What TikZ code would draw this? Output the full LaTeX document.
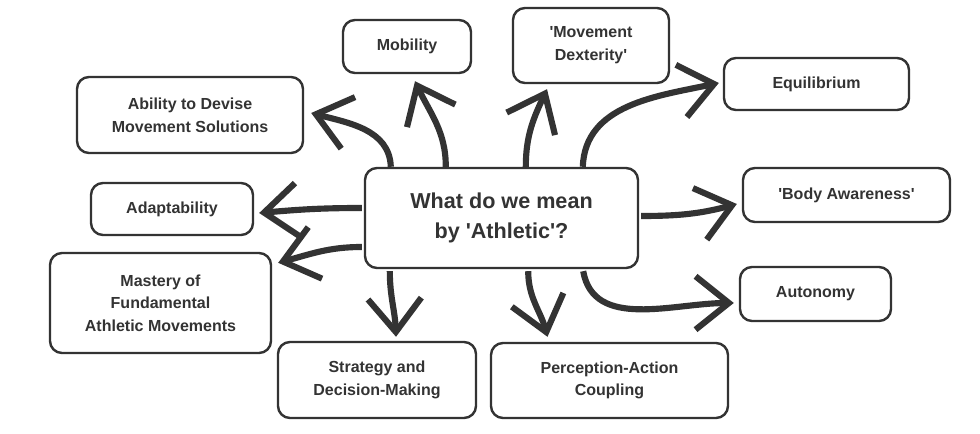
\documentclass[tikz,border=0pt]{standalone}
\usepackage{fontspec}
\setmainfont{Liberation Sans}
\usetikzlibrary{arrows.meta,calc}
\definecolor{ink}{HTML}{333333}
\newcommand{\q}{\textquotesingle}
\tikzset{
  box/.style={draw=ink,line width=1.8pt,rounded corners=9pt,align=center,
    text=ink,font=\bfseries\fontsize{12}{17}\selectfont,inner sep=0pt},
  sz/.style 2 args={minimum width=0.75*#1 pt,minimum height=0.75*#2 pt},
  conn/.style={draw=ink,line width=4.6pt,
    -{Straight Barb[length=25pt,width=40pt,line cap=butt]}}}
\begin{document}
\begin{tikzpicture}[x=0.75pt,y=0.75pt]
\useasboundingbox[fill=white] (0,0) rectangle (980,434);
\node[box,sz={273}{100},font=\bfseries\fontsize{16.2}{23}\selectfont] (c) at (501.5,216) {What do we mean\\by \q Athletic\q ?};
\node[box,sz={128}{53}] (mob) at (407,387.5) {Mobility};
\node[box,sz={156}{75}] (dex) at (591,388.5) {\q Movement\\Dexterity\q};
\node[box,sz={185}{52}] (eq) at (816.5,350) {Equilibrium};
\node[box,sz={207}{54}] (body) at (846.5,239) {\q Body Awareness\q};
\node[box,sz={151}{54}] (aut) at (815.5,140) {Autonomy};
\node[box,sz={237}{75}] (per) at (609.5,53.5) {Perception-Action\\Coupling};
\node[box,sz={198}{76}] (str) at (377,54) {Strategy and\\Decision-Making};
\node[box,sz={221}{100}] (mas) at (160.5,131) {Mastery of\\Fundamental\\Athletic Movements};
\node[box,sz={162}{52}] (ada) at (172,225) {Adaptability};
\node[box,sz={226}{76}] (abl) at (190,319) {Ability to Devise\\Movement Solutions};
% connectors
\draw[conn] ($(c.north west)+(27,0)$) to[out=92,in=-15] ($(abl.east)+(7,2)$);
\draw[conn] ($(c.north west)+(82,0)$) to[out=90,in=-65] ($(mob.south)+(8,-7)$);
\draw[conn] ($(c.north west)+(162,0)$) to[out=90,in=-115] ($(dex.south)+(-44,-5)$);
\draw[conn] ($(c.north west)+(219,0)$) to[out=88,in=192] ($(eq.west)+(-4,1)$);
\draw[conn] ($(c.east)+(2,2)$) to[out=0,in=195] ($(body.west)+(-5,-9)$);
\draw[conn] ($(c.south east)+(-56,-2)$) to[out=-80,in=180] ($(aut.west)+(-5,-9)$);
\draw[conn] ($(c.south east)+(-111,-2)$) to[out=-90,in=105] ($(per.north)+(-62,5)$);
\draw[conn] ($(c.south west)+(26,-2)$) to[out=-90,in=92] ($(str.north)+(19,4)$);
\draw[conn] ($(c.west)+(-2,-29)$) to[out=180,in=15] ($(mas.north east)+(6,-11)$);
\draw[conn] ($(c.west)+(-2,10)$) to[out=180,in=5] ($(ada.east)+(5,-4)$);
\end{tikzpicture}
\end{document}
